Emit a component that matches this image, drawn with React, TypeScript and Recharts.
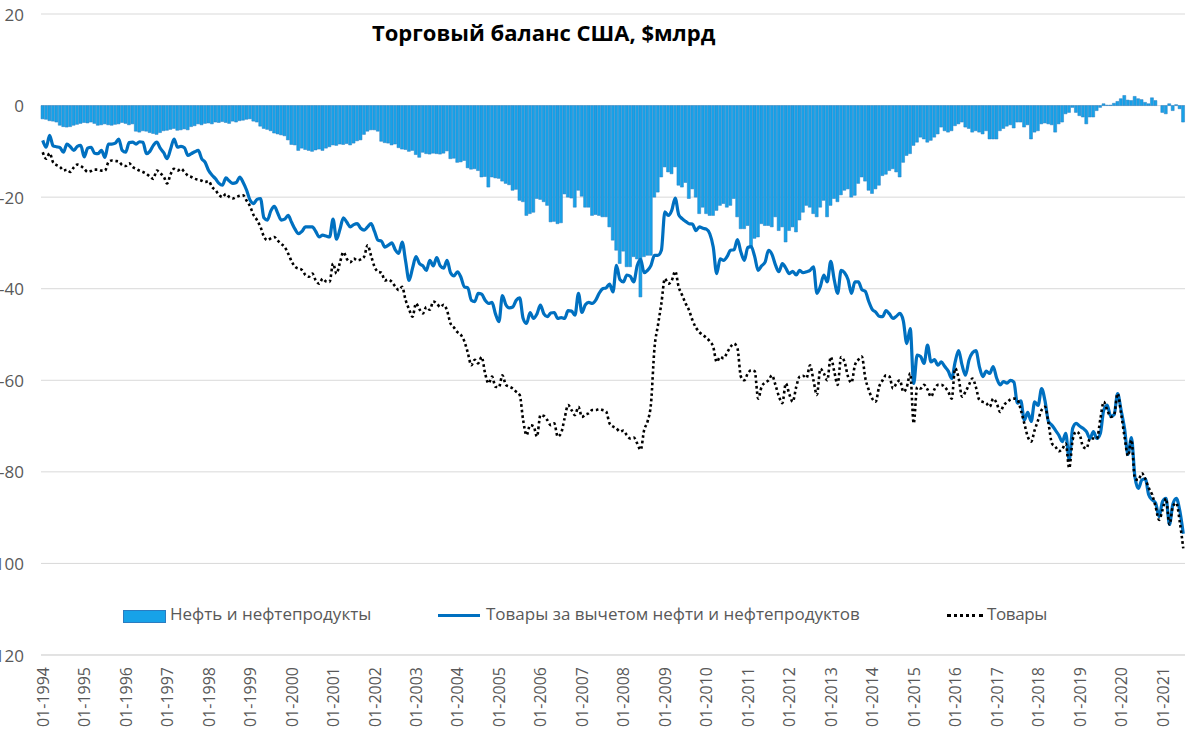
import React from "react";
import {
  ComposedChart,
  Bar,
  Line,
  XAxis,
  YAxis,
  CartesianGrid,
  Legend,
} from "recharts";

// Monthly values, $bn, 01-1994 .. 07-2021 (one row per year)
const oil = [
  -2.9, -3.0, -3.3, -3.4, -3.6, -4.3, -4.6, -4.7, -4.6, -4.3, -4.1, -3.9,
  -3.7, -3.8, -3.6, -3.9, -4.3, -4.2, -4.0, -4.2, -4.3, -4.1, -4.0, -3.7,
  -3.9, -4.2, -4.0, -5.6, -5.8, -5.5, -5.6, -5.9, -6.1, -6.3, -5.9, -5.5,
  -5.4, -5.2, -5.0, -5.4, -5.3, -5.1, -5.3, -4.6, -4.4, -4.0, -4.2, -3.9,
  -3.8, -4.0, -3.6, -3.7, -3.5, -3.7, -3.9, -3.4, -3.6, -3.3, -3.2, -3.0,
  -2.9, -3.4, -3.6, -4.5, -5.0, -5.2, -5.5, -6.0, -6.2, -6.4, -6.6, -7.5,
  -8.5, -8.6, -9.8, -9.3, -9.6, -9.8, -10.0, -9.7, -9.5, -9.8, -9.3, -9.0,
  -8.6, -8.7, -8.4, -8.5, -8.3, -8.6, -8.2, -7.7, -7.5, -6.3, -5.6, -5.3,
  -5.3, -5.6, -7.8, -8.1, -8.2, -8.6, -8.4, -9.2, -9.5, -9.6, -10.0, -9.8,
  -10.7, -11.3, -10.2, -10.5, -10.6, -10.4, -10.5, -10.6, -10.4, -9.9, -11.6, -11.5,
  -12.4, -12.3, -12.0, -13.6, -13.9, -13.8, -14.2, -15.6, -15.5, -17.8, -15.6, -15.8,
  -15.9, -16.5, -17.0, -17.3, -18.5, -18.3, -20.7, -21.0, -24.0, -23.6, -23.3, -20.3,
  -20.5, -21.0, -21.8, -25.4, -25.3, -25.8, -25.6, -19.3, -20.0, -20.2, -22.2, -18.5,
  -19.8, -22.2, -22.2, -24.0, -23.8, -24.0, -24.3, -24.3, -26.5, -29.4, -31.6, -34.5,
  -31.8, -35.2, -35.2, -33.0, -33.5, -41.8, -33.0, -32.7, -32.7, -20.0, -18.9, -15.6,
  -13.4, -14.5, -14.9, -13.4, -17.4, -17.8, -16.8, -20.3, -18.2, -20.0, -23.6, -22.2,
  -23.6, -24.0, -24.0, -22.9, -21.8, -21.4, -22.2, -21.8, -20.3, -24.3, -26.9, -26.9,
  -26.2, -30.9, -29.0, -28.7, -25.8, -26.2, -26.2, -26.5, -24.3, -27.3, -26.5, -29.8,
  -27.3, -26.5, -27.6, -25.0, -23.3, -21.8, -22.2, -23.6, -24.3, -22.2, -20.7, -24.3,
  -21.8, -20.3, -21.0, -19.5, -18.5, -18.2, -20.0, -19.6, -17.0, -15.6, -16.5, -18.5,
  -19.2, -18.2, -17.4, -15.3, -15.0, -14.2, -13.8, -14.5, -15.6, -12.4, -10.9, -10.5,
  -8.7, -8.0, -6.9, -7.3, -8.0, -7.6, -6.9, -6.2, -4.7, -5.5, -5.8, -5.5,
  -4.4, -4.0, -3.6, -4.7, -5.0, -5.8, -5.5, -5.8, -6.2, -5.5, -7.3, -7.3,
  -7.3, -5.5, -5.0, -4.5, -4.2, -4.9, -3.6, -3.6, -4.7, -4.2, -7.3, -5.8,
  -5.5, -4.0, -3.8, -4.0, -4.2, -5.8, -4.0, -3.6, -1.8, -1.5, -0.4, -1.5,
  -2.2, -2.5, -4.0, -2.5, -2.5, -1.1, -0.4, 0.4, 0.1, 0.1, 0.5, 0.9,
  1.5, 2.2, 1.2, 1.1, 2.0, 1.5, 1.3, 0.7, 0.4, 1.7, 1.1, 0.0,
  -1.5, -1.8, 0.4, -1.1, 0.2, -0.7, -3.6,
];

const nonOil = [
  -7.6, -9.1, -6.5, -8.8, -9.0, -9.2, -10.2, -8.4, -9.0, -9.8, -8.9, -8.7,
  -11.2, -9.3, -9.1, -10.4, -10.5, -9.8, -11.3, -8.4, -8.4, -8.2, -7.3, -9.8,
  -10.2, -8.1, -8.0, -8.4, -7.9, -8.0, -10.5, -10.0, -8.7, -8.0, -9.3, -10.3,
  -11.6, -9.5, -7.3, -9.1, -8.9, -9.2, -10.9, -10.5, -10.1, -9.8, -11.6, -12.4,
  -14.2, -15.2, -16.0, -17.0, -17.4, -15.8, -16.5, -17.0, -16.8, -15.6, -16.8, -18.5,
  -20.7, -21.4, -20.5, -20.3, -24.5, -25.0, -23.0, -22.0, -23.5, -25.0, -24.8, -24.0,
  -25.5, -27.0, -28.0, -27.5, -26.5, -26.5, -26.5, -27.5, -28.7, -28.3, -28.5, -28.7,
  -24.8, -29.2, -27.0, -24.5, -25.5, -26.5, -26.0, -25.8, -26.8, -27.2, -26.5, -25.8,
  -27.5, -29.4, -29.6, -30.9, -30.5, -30.0, -31.5, -32.3, -29.8, -34.0, -38.2, -35.5,
  -33.0, -34.5, -35.0, -36.0, -33.8, -35.0, -33.2, -35.0, -35.5, -33.8, -36.5, -37.2,
  -36.3, -37.5, -39.6, -39.8, -42.5, -42.8, -41.0, -41.2, -42.5, -43.2, -43.0, -45.5,
  -47.2, -41.5, -43.5, -44.2, -44.0, -42.5, -42.0, -46.5, -47.6, -45.2, -46.5, -45.5,
  -43.6, -45.5, -46.1, -45.3, -45.2, -46.5, -46.3, -46.5, -44.8, -44.9, -45.8, -41.0,
  -45.2, -43.5, -43.0, -43.2, -42.5, -41.0, -40.0, -39.8, -39.0, -40.7, -34.9, -38.0,
  -38.5, -37.0, -37.3, -38.5, -35.0, -33.6, -36.5, -36.0, -34.9, -32.7, -32.7, -31.6,
  -23.2, -24.0, -22.9, -20.2, -23.8, -24.7, -25.3, -25.8, -25.9, -27.3, -26.5, -26.8,
  -27.0, -28.0, -30.9, -36.7, -33.5, -33.8, -33.0, -31.6, -31.5, -29.3, -32.0, -33.8,
  -31.0, -30.8, -33.0, -36.0, -35.0, -34.2, -31.6, -32.5, -34.8, -36.3, -34.5, -35.5,
  -36.7, -36.2, -37.0, -36.0, -36.5, -36.3, -36.0, -35.2, -41.0, -39.5, -37.0, -38.5,
  -34.0, -38.0, -41.0, -36.0, -36.5, -38.0, -41.0, -38.5, -38.5, -40.2, -40.6, -42.8,
  -44.5, -45.1, -46.0, -46.1, -44.8, -45.5, -46.5, -46.0, -45.4, -47.0, -52.0, -48.7,
  -60.7, -54.5, -54.8, -56.3, -52.3, -56.0, -55.5, -56.7, -56.0, -57.0, -58.0, -59.6,
  -56.0, -53.5, -56.7, -58.9, -55.6, -54.0, -53.5, -57.0, -59.2, -58.0, -58.5, -57.0,
  -59.5, -61.0, -60.3, -60.6, -60.0, -60.4, -65.0, -64.5, -68.7, -67.0, -69.0, -64.7,
  -65.5, -61.8, -64.5, -69.0, -69.8, -70.9, -72.0, -73.4, -71.6, -77.4, -70.5, -69.4,
  -70.0, -70.5, -71.2, -72.7, -71.2, -72.7, -71.6, -66.5, -65.4, -67.9, -67.5, -62.9,
  -66.5, -70.5, -76.2, -72.5, -81.0, -83.6, -81.8, -81.5, -85.0, -86.1, -86.8, -89.8,
  -86.5, -85.8, -91.5, -87.0, -85.8, -88.5, -93.5,
];

const goods = [
  -10.2, -11.6, -10.4, -12.4, -13.0, -13.4, -14.2, -14.0, -14.5, -13.5, -12.9, -13.2,
  -13.8, -14.5, -14.3, -14.0, -14.0, -14.2, -14.2, -12.4, -12.0, -12.1, -12.2, -13.0,
  -13.2, -12.6, -13.4, -13.8, -14.2, -14.5, -14.9, -15.5, -16.0, -14.2, -14.8, -15.5,
  -17.0, -15.0, -13.8, -14.2, -13.8, -14.5, -15.3, -15.6, -16.0, -16.2, -16.4, -16.7,
  -16.5, -17.8, -18.5, -19.5, -20.0, -19.3, -20.0, -20.3, -20.0, -19.7, -19.6, -20.8,
  -22.0, -23.9, -25.0, -26.5, -28.6, -29.4, -29.0, -28.7, -29.5, -30.2, -30.9, -32.3,
  -34.0, -35.2, -35.6, -35.9, -37.0, -37.4, -36.7, -38.2, -38.9, -37.8, -38.4, -38.5,
  -34.5, -36.7, -34.3, -32.0, -33.5, -34.2, -33.4, -33.8, -33.6, -33.0, -30.5, -32.8,
  -35.2, -36.3, -36.5, -38.2, -38.0, -38.5, -39.5, -40.3, -39.6, -42.5, -44.5, -46.1,
  -43.2, -44.5, -45.4, -44.0, -44.6, -42.8, -43.2, -44.0, -43.5, -44.8, -47.6, -48.5,
  -49.5, -50.1, -51.5, -54.0, -56.7, -55.5, -56.3, -54.9, -58.5, -60.7, -59.2, -61.4,
  -61.5, -58.9, -61.0, -61.4, -61.8, -62.5, -63.2, -68.7, -72.0, -69.8, -70.0, -72.3,
  -67.6, -67.8, -68.7, -69.8, -69.4, -72.3, -71.5, -68.3, -65.4, -66.5, -67.6, -65.8,
  -68.0, -67.5, -67.2, -66.5, -66.5, -66.3, -66.5, -66.8, -69.4, -70.1, -70.5, -71.2,
  -71.0, -72.0, -72.7, -72.5, -73.8, -75.2, -70.9, -69.0, -65.0, -53.0, -48.0, -43.2,
  -37.8, -38.9, -38.2, -36.2, -39.6, -41.4, -43.2, -44.7, -46.9, -48.5, -49.5, -50.1,
  -50.7, -51.5, -52.7, -56.0, -54.9, -55.2, -54.0, -52.7, -52.0, -53.0, -59.2, -60.0,
  -58.5, -57.8, -58.0, -64.0, -61.4, -60.5, -60.0, -58.9, -61.0, -63.5, -65.0, -60.7,
  -63.0, -64.7, -61.5, -59.2, -59.0, -59.5, -56.7, -60.0, -63.2, -57.5, -58.5, -60.0,
  -54.9, -58.0, -61.0, -54.9, -56.0, -59.2, -60.5, -56.7, -55.5, -54.8, -59.5, -62.1,
  -64.0, -64.7, -61.4, -60.0, -58.9, -59.2, -61.8, -60.7, -60.0, -62.5, -61.5, -58.5,
  -69.4, -61.5, -61.8, -61.0, -62.0, -63.6, -62.0, -61.0, -61.0, -61.5, -62.5, -64.0,
  -57.4, -59.5, -63.6, -62.5, -61.0, -59.6, -61.5, -64.3, -64.7, -65.0, -65.8, -64.0,
  -65.0, -66.9, -65.5, -64.8, -64.2, -64.0, -64.2, -66.5, -69.4, -72.3, -73.4, -70.9,
  -68.7, -66.5, -65.8, -69.4, -73.8, -74.5, -75.5, -75.0, -73.8, -79.2, -73.0, -71.2,
  -71.8, -74.5, -74.9, -72.7, -72.7, -72.8, -68.5, -64.7, -66.5, -68.0, -67.5, -62.9,
  -67.2, -72.3, -76.5, -73.0, -81.5, -81.8, -80.3, -81.5, -83.5, -85.0, -87.6, -90.5,
  -88.3, -85.8, -91.5, -87.5, -86.8, -91.0, -96.7,
];

const years = [
  1994, 1995, 1996, 1997, 1998, 1999, 2000, 2001, 2002, 2003, 2004, 2005, 2006, 2007,
  2008, 2009, 2010, 2011, 2012, 2013, 2014, 2015, 2016, 2017, 2018, 2019, 2020, 2021,
];
const months = ["01", "02", "03", "04", "05", "06", "07", "08", "09", "10", "11", "12"];
const yTicks = [-120, -100, -80, -60, -40, -20, 0, 20];

const labels = years.flatMap((y) => months.map((m) => `${m}-${y}`)).slice(0, oil.length);

const chartData = labels.map((label, i) => ({
  label,
  oil: oil[i],
  nonOil: nonOil[i],
  goods: goods[i],
}));

const FONT = "'Open Sans', 'Noto Sans', sans-serif";
const GREY = "#595959";

// the source image is cropped on the left, so the y labels are partly cut off
const YTick = ({ y, payload }: any) => (
  <text x={24} y={y} textAnchor="end" dominantBaseline="central" fontSize={17} fill={GREY} fontFamily={FONT}>
    {payload.value}
  </text>
);

const XTick = ({ x, payload }: any) => (
  <text
    x={x}
    y={667}
    transform={`rotate(-90 ${x} 667)`}
    textAnchor="end"
    dominantBaseline="central"
    fontSize={16}
    fill={GREY}
    fontFamily={FONT}
  >
    {payload.value}
  </text>
);

const LegendBox = () => (
  <div style={{ position: "relative", width: 1191, height: 30, fontFamily: FONT, fontSize: 17, color: GREY }}>
    <div style={{ position: "absolute", left: 123, top: 9, width: 41, height: 11, background: "#17A2E8", border: "1px solid #2B7CC0" }} />
    <div style={{ position: "absolute", left: 170, top: 1, whiteSpace: "nowrap" }}>Нефть и нефтепродукты</div>
    <div style={{ position: "absolute", left: 438, top: 13, width: 42, height: 3, background: "#0070C0" }} />
    <div style={{ position: "absolute", left: 486, top: 1, whiteSpace: "nowrap" }}>Товары за вычетом нефти и нефтепродуктов</div>
    <div style={{ position: "absolute", left: 947, top: 13, width: 36, height: 0, borderTop: "3px dotted #000" }} />
    <div style={{ position: "absolute", left: 987, top: 1, whiteSpace: "nowrap", letterSpacing: -0.4 }}>Товары</div>
  </div>
);

export default function App() {
  return (
    <div style={{ position: "absolute", left: 0, top: 0, width: 1191, height: 741, background: "#fff" }}>
      <ComposedChart
        width={1191}
        height={741}
        data={chartData}
        margin={{ top: 14, right: 6, bottom: 0, left: 0 }}
        barCategoryGap={0}
        barGap={0}
      >
        <CartesianGrid vertical={false} stroke="#d9d9d9" strokeWidth={1} />
        <XAxis
          dataKey="label"
          interval={11}
          tickLine={false}
          axisLine={{ stroke: "#d9d9d9" }}
          height={86}
          tick={<XTick />}
        />
        <YAxis
          domain={[-120, 20]}
          ticks={yTicks}
          width={41}
          axisLine={false}
          tickLine={false}
          tick={<YTick />}
        />
        <Legend
          layout="horizontal"
          align="center"
          verticalAlign="middle"
          content={<LegendBox />}
          wrapperStyle={{ position: "absolute", left: 0, top: 601, width: 1191, height: 30 }}
        />
        <Bar dataKey="oil" name="Нефть и нефтепродукты" fill="#17A2E8" stroke="#2B7CC0" strokeWidth={0.5} isAnimationActive={false} />
        <Line
          type="monotone"
          dataKey="nonOil"
          name="Товары за вычетом нефти и нефтепродуктов"
          stroke="#0070C0"
          strokeWidth={3.2}
          dot={false}
          isAnimationActive={false}
        />
        <Line
          type="monotone"
          dataKey="goods"
          name="Товары"
          stroke="#000000"
          strokeWidth={2.6}
          strokeDasharray="2.6 2.8"
          dot={false}
          isAnimationActive={false}
        />
      </ComposedChart>
      <div
        style={{
          position: "absolute",
          left: 372,
          top: 17,
          fontFamily: FONT,
          fontWeight: 700,
          fontSize: 22,
          color: "#000",
          whiteSpace: "nowrap",
        }}
      >
        Торговый баланс США, $млрд
      </div>
    </div>
  );
}
